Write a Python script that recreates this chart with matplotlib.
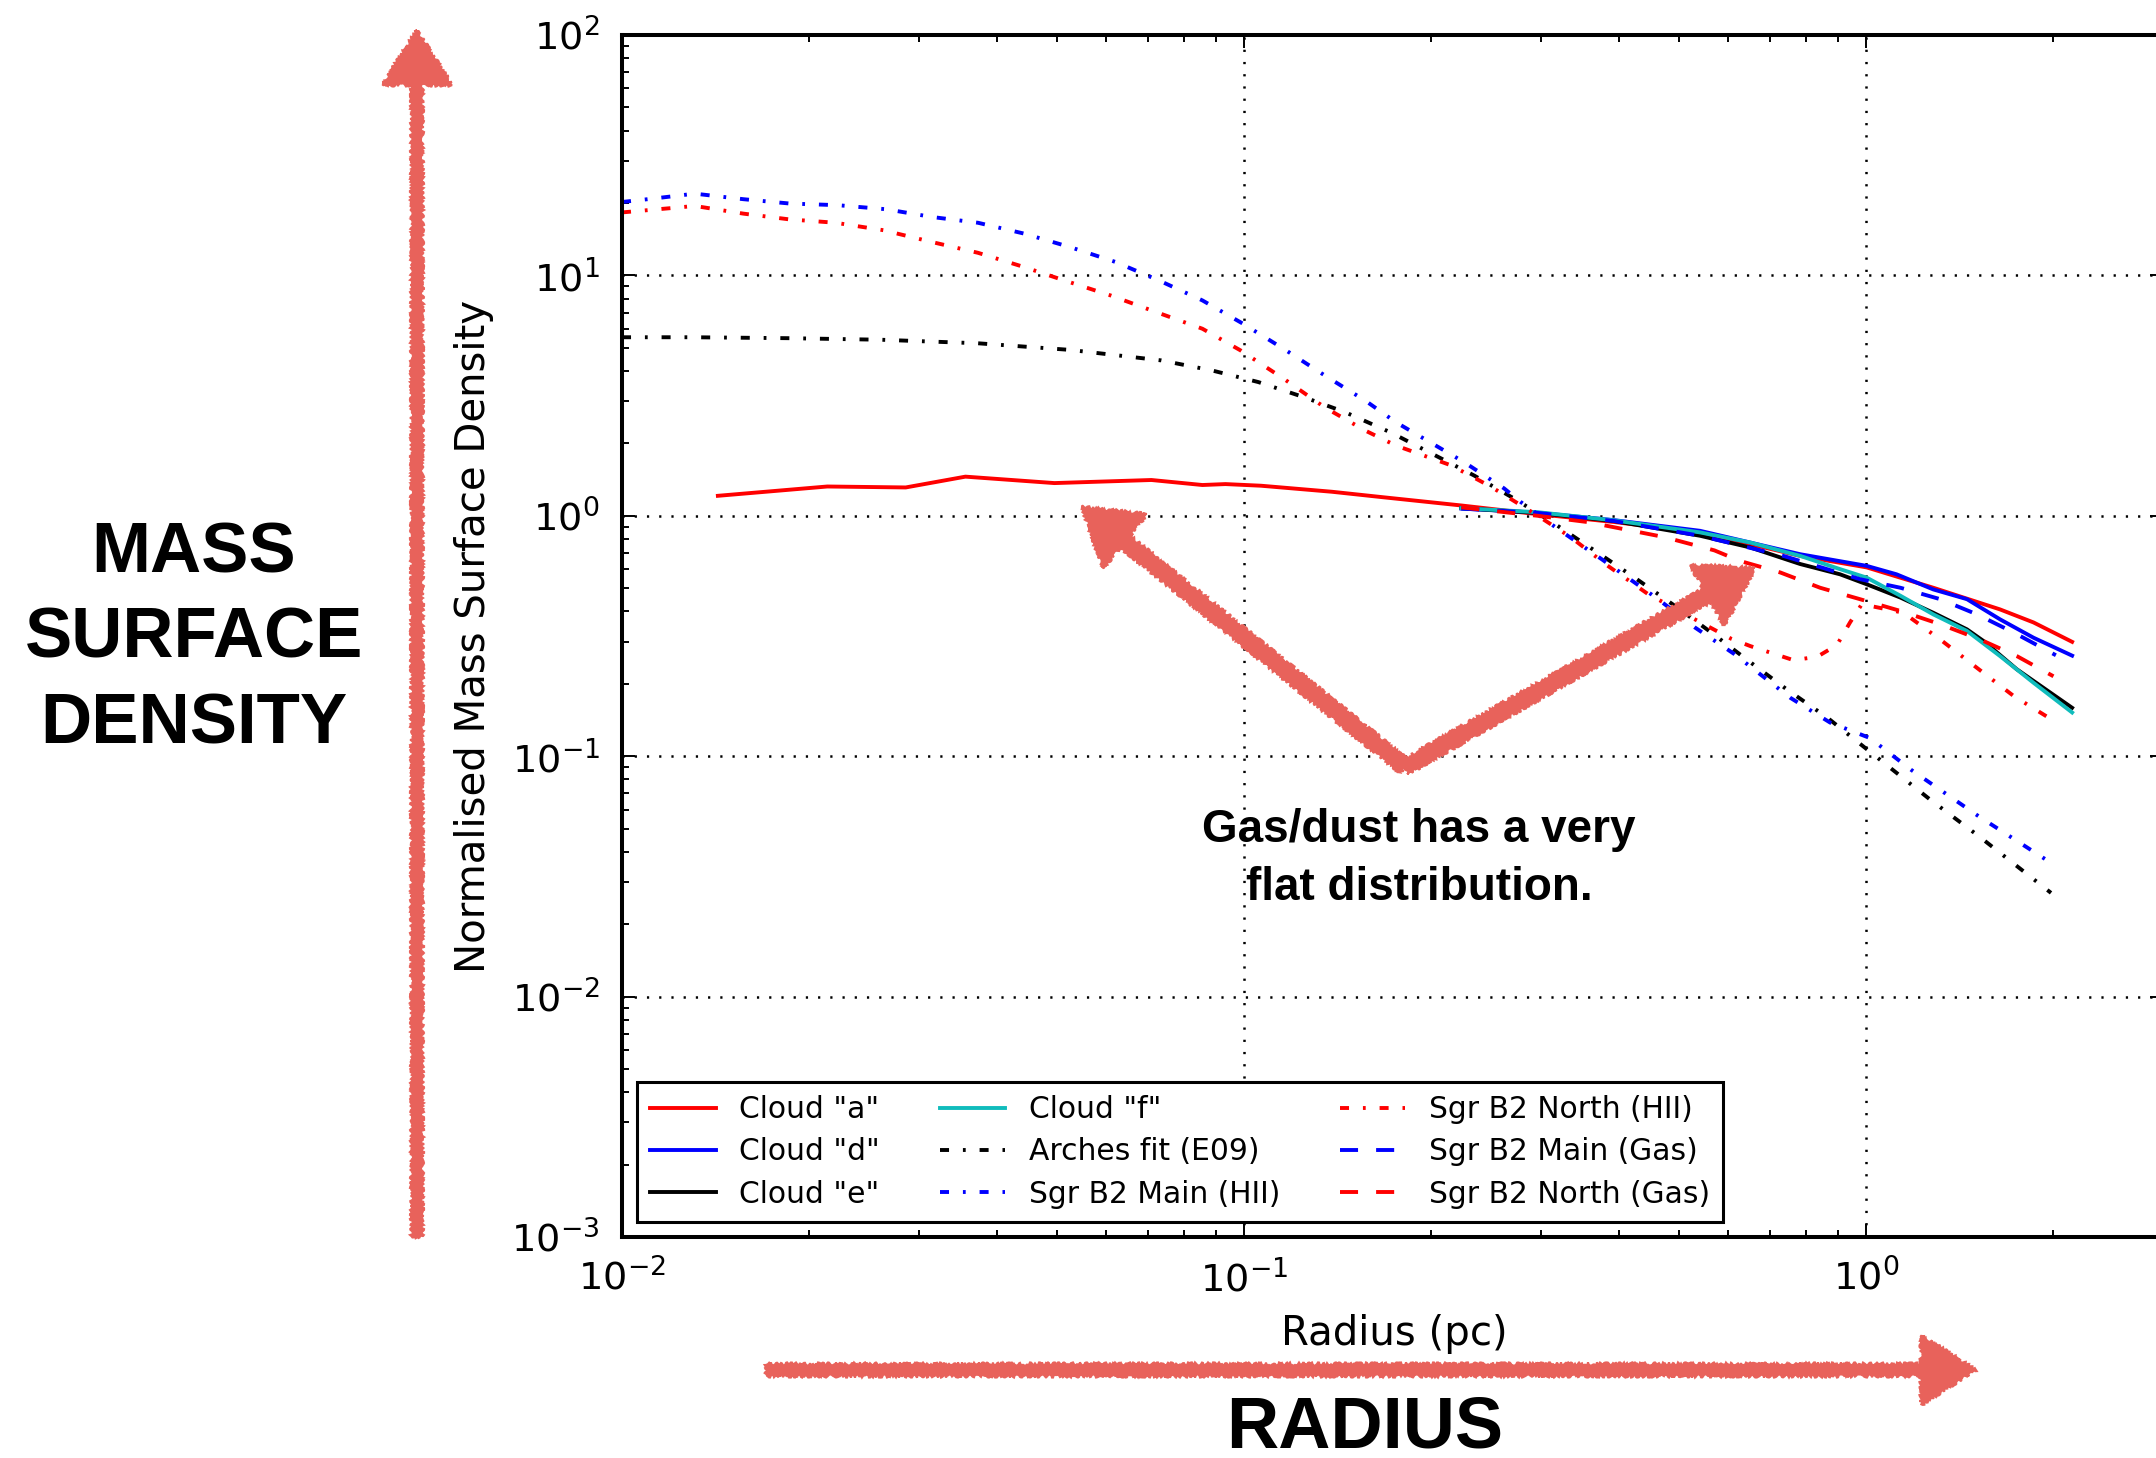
import matplotlib
matplotlib.use("Agg")
import matplotlib.pyplot as plt
import matplotlib.patches as mpatches

# radius (pc) / normalised surface density
cloud_a_r = [0.01426, 0.02138, 0.02858, 0.03565, 0.04955, 0.07096, 0.0857, 0.09333, 0.1064, 0.1384,
             0.166, 0.2234, 0.2931, 0.3936, 0.5408, 0.7834, 1.002, 1.282, 1.641, 1.858, 2.143]
cloud_a = [1.211, 1.324, 1.312, 1.455, 1.368, 1.409, 1.343, 1.355, 1.334, 1.259,
           1.197, 1.104, 1.019, 0.942, 0.853, 0.681, 0.61, 0.502, 0.408, 0.36, 0.299]

cloud_d_r = [0.2234, 0.2965, 0.3936, 0.5408, 0.7834, 1.002, 1.119, 1.282, 1.452, 1.641, 1.858, 2.143]
cloud_d = [1.072, 1.03, 0.959, 0.866, 0.692, 0.619, 0.571, 0.494, 0.45, 0.371, 0.311, 0.262]

cloud_e_r = [0.2234, 0.2965, 0.3936, 0.5408, 0.6516, 0.7834, 0.9078, 1.002, 1.135, 1.282, 1.452, 1.545, 1.746, 2.143]
cloud_e = [1.076, 1.028, 0.951, 0.826, 0.738, 0.63, 0.571, 0.519, 0.457, 0.395, 0.337, 0.301, 0.23, 0.159]

cloud_f_r = [0.2234, 0.2965, 0.3936, 0.5408, 0.6516, 0.7834, 0.9078, 1.002, 1.135, 1.282, 1.452, 1.641, 1.858, 2.143]
cloud_f = [1.076, 1.035, 0.957, 0.853, 0.774, 0.681, 0.6, 0.553, 0.465, 0.389, 0.332, 0.261, 0.202, 0.152]

arches_r = [0.01, 0.01297, 0.01858, 0.02606, 0.03733, 0.05248, 0.07362, 0.08892, 0.1054, 0.125, 0.1452,
            0.1722, 0.1982, 0.2344, 0.2716, 0.3155, 0.3656, 0.4236, 0.492, 0.5636, 0.6471, 0.7447,
            0.865, 0.9886, 1.268, 1.517, 1.982]
arches = [5.53, 5.53, 5.48, 5.4, 5.22, 4.9, 4.43, 4.02, 3.6, 3.11, 2.7,
          2.22, 1.84, 1.47, 1.18, 0.927, 0.718, 0.555, 0.423, 0.327, 0.249, 0.19,
          0.145, 0.11, 0.0659, 0.0465, 0.027]

main_hii_r = [0.01, 0.01117, 0.01309, 0.01567, 0.01858, 0.02223, 0.02661, 0.03148, 0.03733, 0.04426,
              0.05248, 0.06209, 0.07295, 0.0857, 0.09954, 0.1159, 0.1349, 0.1567, 0.1754, 0.2259,
              0.2618, 0.2786, 0.3192, 0.375, 0.4624, 0.5297, 0.6138, 0.7551, 0.875, 1.014, 1.18, 1.517, 1.982]
main_hii = [20.2, 20.84, 21.88, 20.75, 19.91, 19.59, 18.84, 17.5, 16.56, 14.93,
            13.12, 11.38, 9.53, 7.87, 6.3, 4.94, 3.83, 3.01, 2.45, 1.67,
            1.3, 1.14, 0.883, 0.662, 0.451, 0.344, 0.266, 0.175, 0.138, 0.119, 0.0879, 0.0562, 0.036]

north_hii_r = [0.01, 0.01213, 0.01309, 0.01567, 0.01858, 0.02203, 0.0263, 0.03148, 0.03733, 0.04426,
               0.0514, 0.06095, 0.07112, 0.0857, 0.09863, 0.1159, 0.1349, 0.1567, 0.1754, 0.2153,
               0.2495, 0.2931, 0.335, 0.3837, 0.4457, 0.5164, 0.6067, 0.6516, 0.7638, 0.8337,
               0.8974, 0.9419, 0.984, 1.148, 1.315, 1.507, 1.726, 2.014]
north_hii = [18.28, 19.1, 19.45, 18.07, 17.1, 16.56, 15.42, 13.77, 12.42, 10.84,
             9.53, 8.26, 7.14, 6.0, 4.88, 3.71, 2.82, 2.26, 1.96, 1.62,
             1.32, 1.02, 0.815, 0.621, 0.473, 0.385, 0.308, 0.287, 0.251, 0.259,
             0.29, 0.36, 0.429, 0.395, 0.306, 0.233, 0.178, 0.139]

main_gas_r = [0.2234, 0.2965, 0.3936, 0.5408, 0.7362, 0.9772, 1.135, 1.315, 1.507, 1.726, 2.018]
main_gas = [1.072, 1.028, 0.951, 0.826, 0.681, 0.545, 0.502, 0.45, 0.389, 0.327, 0.263]

north_gas_r = [0.2234, 0.2965, 0.3565, 0.4742, 0.5702, 0.6266, 0.7278, 0.8433, 0.9772, 1.135, 1.315, 1.524, 1.746, 2.0]
north_gas = [1.084, 1.0, 0.942, 0.815, 0.718, 0.649, 0.581, 0.502, 0.45, 0.402, 0.354, 0.306, 0.261, 0.215]

W, H = 2156, 1458
CORAL = '#e8625b'
DASHDOT = (0, (6.5, 10, 2, 10))
DASHED = (0, (13, 13))

plt.rcParams['lines.scale_dashes'] = False
plt.rcParams['axes.unicode_minus'] = False
plt.rcParams['font.family'] = 'DejaVu Sans'

fig = plt.figure(figsize=(W / 100, H / 100), dpi=100)
ax = fig.add_axes([622 / W, 1 - 1237 / H, (2163 - 622) / W, (1237 - 35) / H])

lw = 2.8
ax.plot(cloud_a_r, cloud_a, color='r', lw=lw, label='Cloud "a"')
ax.plot(cloud_d_r, cloud_d, color='b', lw=lw, label='Cloud "d"')
ax.plot(cloud_e_r, cloud_e, color='k', lw=lw, label='Cloud "e"')
ax.plot(cloud_f_r, cloud_f, color='#10bcbc', lw=lw, label='Cloud "f"')
ax.plot(arches_r, arches, color='k', lw=lw, ls=DASHDOT, label='Arches fit (E09)')
ax.plot(main_hii_r, main_hii, color='b', lw=lw, ls=DASHDOT, label='Sgr B2 Main (HII)')
ax.plot(north_hii_r, north_hii, color='r', lw=lw, ls=DASHDOT, label='Sgr B2 North (HII)')
ax.plot(main_gas_r, main_gas, color='b', lw=lw, ls=DASHED, label='Sgr B2 Main (Gas)')
ax.plot(north_gas_r, north_gas, color='r', lw=lw, ls=DASHED, label='Sgr B2 North (Gas)')

ax.set_xscale('log')
ax.set_yscale('log')
ax.set_xlim(0.01, 3.0)
ax.set_ylim(1e-3, 1e2)
ax.grid(True, which='major', color='k', lw=1.8, ls=(0, (1.6, 7.2)))

for s in ax.spines.values():
    s.set_linewidth(2.9)
ax.tick_params(which='both', direction='in', top=True, right=True, width=1.4)
ax.tick_params(which='major', length=9.5, labelsize=27.5, pad=16)
ax.tick_params(which='minor', length=5)

ax.set_xlabel('Radius (pc)', fontsize=29)
ax.set_ylabel('Normalised Mass Surface Density', fontsize=29)
ax.xaxis.set_label_coords(0.501, -0.064)
ax.yaxis.set_label_coords(-0.083, 0.5)

leg = ax.legend(loc='lower left', ncol=3, fontsize=21.4, fancybox=False, framealpha=1,
                edgecolor='k', handlelength=2.2, handletextpad=0.8, columnspacing=2.0,
                labelspacing=0.45, borderaxespad=0.5, borderpad=0.45)
leg.get_frame().set_linewidth(2.2)

# overlay in pixel coordinates for the hand-drawn annotations
ov = fig.add_axes([0, 0, 1, 1], zorder=10)
ov.set_xlim(0, W)
ov.set_ylim(H, 0)
ov.axis('off')
ov.patch.set_alpha(0)


def sketch_arrow(x0, y0, x1, y1, width):
    arr = mpatches.FancyArrow(x0, y0, x1 - x0, y1 - y0, width=width, head_width=70,
                              head_length=55, length_includes_head=True,
                              color=CORAL, lw=1.5)
    arr.set_sketch_params(scale=1.6, length=4, randomness=6)
    ov.add_patch(arr)


sketch_arrow(417, 1237, 417, 30, 11)
sketch_arrow(766, 1370, 1976, 1370, 12)
sketch_arrow(1405, 767, 1082, 507, 15)
sketch_arrow(1405, 767, 1755, 568, 15)

big = dict(family='Liberation Sans', weight='bold', ha='center', va='center', color='k')
for txt, yy in [('MASS', 554), ('SURFACE', 639), ('DENSITY', 725)]:
    ov.text(194, yy, txt, fontsize=51, **big)
ov.text(1365, 1428, 'RADIUS', fontsize=52, **big)
ov.text(1419, 830, 'Gas/dust has a very', fontsize=33, **big)
ov.text(1419, 888, 'flat distribution.', fontsize=33, **big)

fig.savefig('out.png', dpi=100)
